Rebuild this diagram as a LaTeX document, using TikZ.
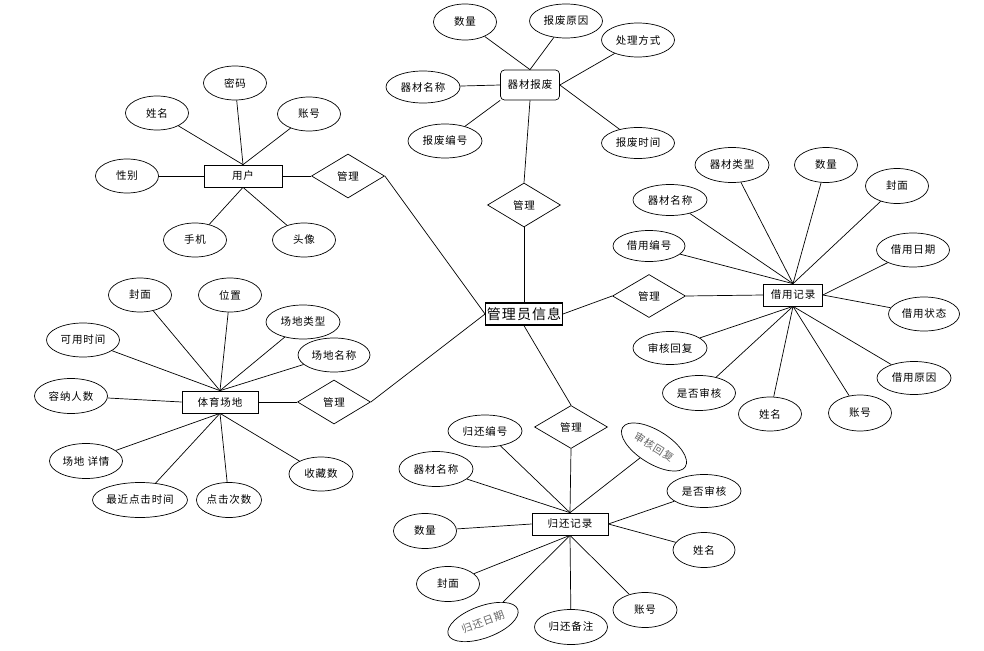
\documentclass[tikz,border=0pt]{standalone}
\usepackage{fontspec}
\setmainfont[LetterSpace=8]{Noto Sans CJK SC}
\usepackage{tikz}
\usetikzlibrary{shapes.geometric}

\begin{document}
\begin{tikzpicture}[x=1pt,y=-1pt,line width=0.7pt,
    font=\fontsize{10.5}{12}\selectfont,
    attr/.style={ellipse,draw,minimum width=#1,minimum height=34,inner sep=0pt},
    attr/.default=63,
    ent/.style={rectangle,draw,minimum width=#1,minimum height=22,inner sep=1pt},
    ent/.default=76,
    relat/.style={diamond,draw,minimum width=73,minimum height=44,inner sep=0pt},
    faded/.style={text=black!60}]
    \useasboundingbox[fill=white] (0,0) rectangle (984,650);

    % centre
    \node [ent, line width=1.4pt, font=\fontsize{14}{16}\selectfont] (admin) at (524,314) {管理员信息};

    % 器材报废
    \node [ent=59, minimum height=30, rounded corners=4pt] (scrap) at (530,85) {器材报废};
    \node [attr, minimum height=36] (s1) at (465,22) {数量};
    \node [attr=73] (s2) at (566,21) {报废原因};
    \node [attr=73] (s3) at (638,40) {处理方式};
    \node [attr=74, minimum height=32] (s4) at (423,87) {器材名称};
    \node [attr=74] (s5) at (445,141) {报废编号};
    \node [attr=73, minimum height=31] (s6) at (638,143) {报废时间};
    \node [relat] (m1) at (524,205) {管理};
    \draw (scrap.north) -- (s1);
    \draw (scrap.north) -- (s2);
    \draw (scrap.east) -- (s3);
    \draw (scrap.west) -- (s4);
    \draw (scrap.south west) -- (s5);
    \draw (scrap.east) -- (s6);
    \draw (m1.north) -- (scrap.south);
    \draw (m1.south) -- (admin.north);

    % 用户
    \node [ent=78] (user) at (243,176) {用户};
    \node [attr] (u1) at (235,83) {密码};
    \node [attr] (u2) at (157,113) {姓名};
    \node [attr] (u3) at (309,114) {账号};
    \node [attr] (u4) at (127,176) {性别};
    \node [attr] (u5) at (195,240) {手机};
    \node [attr] (u6) at (304,240) {头像};
    \node [relat] (m2) at (348,176) {管理};
    \draw (user.north) -- (u1);
    \draw (user.north) -- (u2);
    \draw (user.north) -- (u3);
    \draw (user.west) -- (u4);
    \draw (user.south) -- (u5);
    \draw (user.south) -- (u6);
    \draw (user.east) -- (m2.west);
    \draw (m2.east) -- (admin.west);

    % 体育场地
    \node [ent] (venue) at (220,402) {体育场地};
    \node [attr] (v1) at (140,295) {封面};
    \node [attr] (v2) at (230,295) {位置};
    \node [attr=74] (v3) at (303,322) {场地类型};
    \node [attr=72] (v4) at (334,355) {场地名称};
    \node [attr=73] (v5) at (83,340) {可用时间};
    \node [attr=73, minimum height=35] (v6) at (71,396) {容纳人数};
    \node [attr=73, minimum height=35] (v7) at (86,461) {场地 详情};
    \node [attr=95, minimum height=35] (v8) at (140,500) {最近点击时间};
    \node [attr=65, minimum height=35] (v9) at (229,500) {点击次数};
    \node [attr=64] (v10) at (321,474) {收藏数};
    \node [relat] (m3) at (334,402) {管理};
    \foreach \a in {v1,v2,v3,v4,v5}
        \draw (venue.north) -- (\a);
    \draw (venue.west) -- (v6);
    \foreach \a in {v7,v8,v9,v10}
        \draw (venue.south) -- (\a);
    \draw (venue.east) -- (m3.west);
    \draw (m3.east) -- (admin.west);

    % 借用记录
    \node [ent=59] (borrow) at (793,295) {借用记录};
    \node [attr=74, minimum height=31] (b1) at (670,200) {器材名称};
    \node [attr=74, minimum height=35] (b2) at (732,165) {器材类型};
    \node [attr, minimum height=35] (b3) at (826,165) {数量};
    \node [attr, minimum height=35] (b4) at (897,186) {封面};
    \node [attr=72, minimum height=31] (b5) at (649,246) {借用编号};
    \node [attr=73] (b6) at (913,250) {借用日期};
    \node [attr=71] (b7) at (924,314) {借用状态};
    \node [attr=74, minimum height=33] (b8) at (914,378) {借用原因};
    \node [attr, minimum height=36] (b9) at (860,413) {账号};
    \node [attr] (b10) at (770,414) {姓名};
    \node [attr=73, minimum height=35] (b11) at (699,393) {是否审核};
    \node [attr=74, minimum height=33] (b12) at (670,348) {审核回复};
    \node [relat, minimum height=43] (m4) at (649,296) {管理};
    \foreach \a in {b1,b2,b3,b4,b5}
        \draw (borrow.north) -- (\a);
    \draw (borrow.east) -- (b6);
    \draw (borrow.east) -- (b7);
    \foreach \a in {b8,b9,b10,b11,b12}
        \draw (borrow.south) -- (\a);
    \draw (admin.east) -- (m4.west);
    \draw (m4.east) -- (borrow.west);

    % 归还记录
    \node [ent] (ret) at (570,524) {归还记录};
    \node [attr=74, minimum height=32] (r1) at (485,431) {归还编号};
    \node [attr=74, minimum height=35] (r2) at (436,469) {器材名称};
    \node [attr=74, minimum height=33, rotate=-32, faded] (r3) at (654,447) {审核回复};
    \node [attr=74, minimum height=33] (r4) at (704,491) {是否审核};
    \node [attr, minimum height=35] (r5) at (425,531) {数量};
    \node [attr=62, minimum height=35] (r6) at (704,550) {姓名};
    \node [attr, minimum height=35] (r7) at (448,584) {封面};
    \node [attr=74, minimum height=32, rotate=20, faded] (r8) at (483,622) {归还日期};
    \node [attr=73, minimum height=35] (r9) at (571,627) {归还备注};
    \node [attr=64, minimum height=35] (r10) at (645,610) {账号};
    \node [relat, minimum height=43] (m5) at (571,427) {管理};
    \foreach \a in {r1,r2,r3}
        \draw (ret.north) -- (\a);
    \draw (m5.south) -- (ret.north);
    \draw (ret.west) -- (r5);
    \draw (ret.east) -- (r4);
    \draw (ret.east) -- (r6);
    \foreach \a in {r7,r8,r9,r10}
        \draw (ret.south) -- (\a);
    \draw (admin.south) -- (m5.north);
\end{tikzpicture}
\end{document}
